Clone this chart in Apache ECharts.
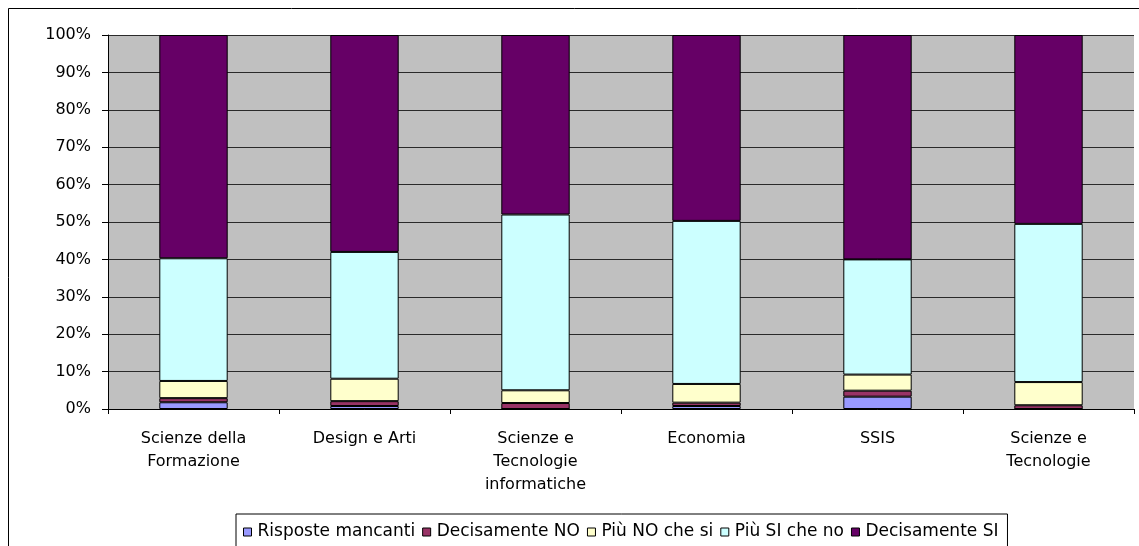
<!DOCTYPE html>
<html>
<head>
<meta charset="utf-8">
<title>Risposte per facoltà</title>
<script src="https://cdn.jsdelivr.net/npm/echarts@6/dist/echarts.min.js"></script>
<style>
  html, body { margin: 0; padding: 0; background: #fff; }
  #chart { width: 1139px; height: 546px; }
</style>
</head>
<body>
<div id="chart"></div>
<script>
// categories and stacked percentages
const categories = [
    'Scienze della\nFormazione',
    'Design e Arti',
    'Scienze e\nTecnologie\ninformatiche',
    'Economia',
    'SSIS',
    'Scienze e\nTecnologie'
];
const risposteMancanti = [1.8, 0.8, 0.0, 0.8, 3.3, 0.0];
const decisamenteNo    = [1.1, 1.3, 1.6, 0.9, 1.6, 1.0];
const piuNoCheSi       = [4.6, 6.0, 3.4, 5.0, 4.3, 6.2];
const piuSiCheNo       = [32.8, 33.9, 47.0, 43.6, 30.8, 42.3];
const decisamenteSi    = [59.7, 58.0, 48.0, 49.7, 60.0, 50.5];
const yTicks = [0, 10, 20, 30, 40, 50, 60, 70, 80, 90, 100];

const font = 'Tahoma, "DejaVu Sans", sans-serif';

const chart = echarts.init(document.getElementById('chart'));

const makeSeries = (name, data, color) => ({
    name: name,
    type: 'bar',
    stack: 'tot',
    data: data,
    barWidth: '40%',
    itemStyle: {
        color: color,
        borderColor: '#000',
        borderWidth: 1
    },
    emphasis: { disabled: true },
    animation: false
});

const option = {
    backgroundColor: '#fff',
    textStyle: { fontFamily: font, color: '#000' },
    graphic: [
        {
            // outer chart frame (cut off on the right and bottom)
            type: 'rect',
            left: 6,
            top: 6,
            shape: { width: 1200, height: 600 },
            style: { fill: 'none', stroke: '#000', lineWidth: 1 },
            silent: true,
            z: -1
        }
    ],
    grid: {
        left: 108,
        right: 5,
        top: 35,
        bottom: 137,
        show: true,
        backgroundColor: '#C0C0C0',
        borderWidth: 0
    },
    legend: {
        left: 236,
        top: 514,
        itemWidth: 8,
        itemHeight: 8,
        itemGap: 7,
        icon: 'rect',
        padding: [8, 9, 18, 7],
        borderColor: '#000',
        borderWidth: 1,
        backgroundColor: '#fff',
        selectedMode: false,
        textStyle: {
            fontFamily: font,
            fontSize: 17,
            lineHeight: 20,
            color: '#000',
            padding: [0, 0, 0, 1]
        },
        itemStyle: { borderColor: '#000', borderWidth: 1 }
    },
    xAxis: {
        type: 'category',
        data: categories,
        axisLine: { lineStyle: { color: '#000', width: 1 } },
        axisTick: { show: true, length: 5, inside: false, lineStyle: { color: '#000' } },
        axisLabel: {
            fontFamily: font,
            fontSize: 16,
            color: '#000',
            margin: 18,
            lineHeight: 23,
            interval: 0
        },
        splitLine: { show: false }
    },
    yAxis: {
        type: 'value',
        min: yTicks[0],
        max: yTicks[yTicks.length - 1],
        interval: 10,
        axisLine: { show: true, lineStyle: { color: '#000', width: 1 } },
        axisTick: { show: true, length: 6, lineStyle: { color: '#000' } },
        axisLabel: {
            fontFamily: font,
            fontSize: 16,
            color: '#000',
            margin: 17,
            formatter: '{value}%'
        },
        splitLine: { show: true, lineStyle: { color: '#2a2a2a', width: 1 } }
    },
    series: [
        makeSeries('Risposte mancanti', risposteMancanti, '#9999FF'),
        makeSeries('Decisamente NO', decisamenteNo, '#993366'),
        makeSeries('Più NO che si', piuNoCheSi, '#FFFFCC'),
        makeSeries('Più SI che no', piuSiCheNo, '#CCFFFF'),
        makeSeries('Decisamente SI', decisamenteSi, '#660066')
    ]
};

chart.setOption(option);

window.addEventListener('resize', () => chart.resize());
</script>
</body>
</html>
